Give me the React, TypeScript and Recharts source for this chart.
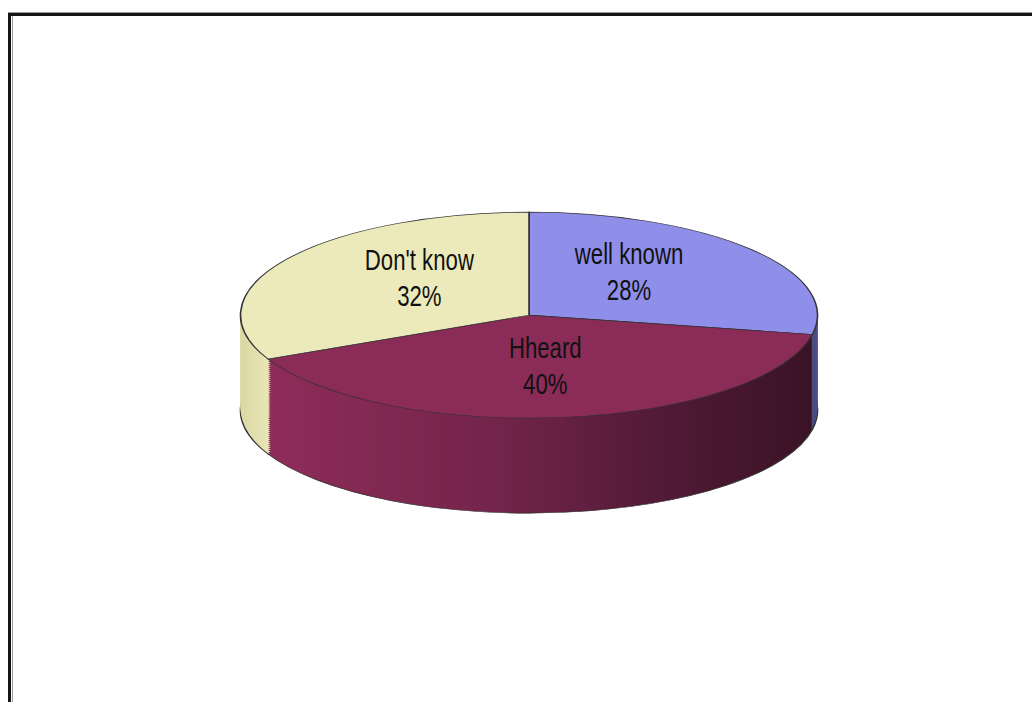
import { PieChart, Pie, Cell } from 'recharts';

const labels = ['well known', 'Hheard', "Don't know"];
const shares = [28, 40, 32];

const data = labels.map((name, i) => ({ name, value: shares[i] }));

const topColors = ['#8f8fea', '#8b2b57', '#eceabb'];
const sideColors = ['#4b4d84', 'url(#sideHeard)', 'url(#sideDont)'];

const RX = 288.5;
const RY = 103;
const K = RY / RX;
const DEPTH = 95 / K; // in unscaled svg units
const CX = 310;
const CY = RX + 6;
const W = 620;
const H = Math.ceil(CY + RX + DEPTH + 10);

const layers: number[] = [];
for (let i = 48; i >= 1; i--) layers.push((DEPTH * i) / 48);

const RADIAN = Math.PI / 180;

const renderLabel = (p: any) => {
  const a = -p.midAngle * RADIAN;
  const x = p.cx + RX * 0.45 * Math.cos(a);
  const y = p.cy + RX * 0.56 * Math.sin(a);
  return (
    <g transform={`translate(${x},${y}) scale(0.74,${1 / K})`}>
      <text
        textAnchor="middle"
        fontFamily="'Liberation Sans', Arial, sans-serif"
        fontSize={30}
        fill="#111"
      >
        <tspan x={0} y={-14}>{p.name}</tspan>
        <tspan x={0} y={22}>{`${p.value}%`}</tspan>
      </text>
    </g>
  );
};

const App = () => {
  return (
    <div style={{ position: 'absolute', left: 0, top: 0, width: 1032, height: 702, overflow: 'hidden', background: '#fff' }}>
      {/* page frame */}
      <div style={{ position: 'absolute', left: 8, top: 12, width: 1100, height: 800, borderTop: '1px solid #999' }} />
      <div style={{ position: 'absolute', left: 8, top: 13, width: 1100, height: 800, borderTop: '3px solid #151515', borderLeft: '3px solid #151515' }} />
      <div style={{ position: 'absolute', left: 12, top: 16, width: 10, height: 800, borderLeft: '1px solid #999' }} />

      {/* 3D pie: flattened with a vertical scale */}
      <div
        style={{
          position: 'absolute',
          left: 528.5 - CX,
          top: 315 - K * CY,
          width: W,
          height: H,
          transform: `scaleY(${K})`,
          transformOrigin: 'top left',
        }}
      >
        <PieChart width={W} height={H} margin={{ top: 0, right: 0, bottom: 0, left: 0 }}>
          <defs>
            <linearGradient id="sideHeard" gradientUnits="userSpaceOnUse" x1={CX - RX} y1={0} x2={CX + RX} y2={0}>
              <stop offset="0.05" stopColor="#8e2c5a" />
              <stop offset="0.45" stopColor="#72244b" />
              <stop offset="0.75" stopColor="#4f1a35" />
              <stop offset="1" stopColor="#3a1224" />
            </linearGradient>
            <linearGradient id="sideDont" gradientUnits="userSpaceOnUse" x1={CX - RX} y1={0} x2={CX + RX} y2={0}>
              <stop offset="0" stopColor="#dcd8a4" />
              <stop offset="0.06" stopColor="#ebe8bb" />
              <stop offset="1" stopColor="#ebe8bb" />
            </linearGradient>
          </defs>
          {layers.map((off, li) => (
            <Pie
              key={`side-${li}`}
              data={data}
              dataKey="value"
              nameKey="name"
              cx={CX}
              cy={CY + off}
              outerRadius={RX}
              startAngle={90}
              endAngle={-270}
              stroke={li === 0 ? '#333' : 'none'}
              strokeWidth={li === 0 ? 1.6 : 0}
              isAnimationActive={false}
            >
              {data.map((d, i) => (
                <Cell key={d.name} fill={sideColors[i]} />
              ))}
            </Pie>
          ))}
          <Pie
            data={data}
            dataKey="value"
            nameKey="name"
            cx={CX}
            cy={CY}
            outerRadius={RX}
            startAngle={90}
            endAngle={-270}
            stroke="#333"
            strokeWidth={1.6}
            label={renderLabel}
            labelLine={false}
            isAnimationActive={false}
          >
            {data.map((d, i) => (
              <Cell key={d.name} fill={topColors[i]} />
            ))}
          </Pie>
        </PieChart>
      </div>
    </div>
  );
};

export default App;
